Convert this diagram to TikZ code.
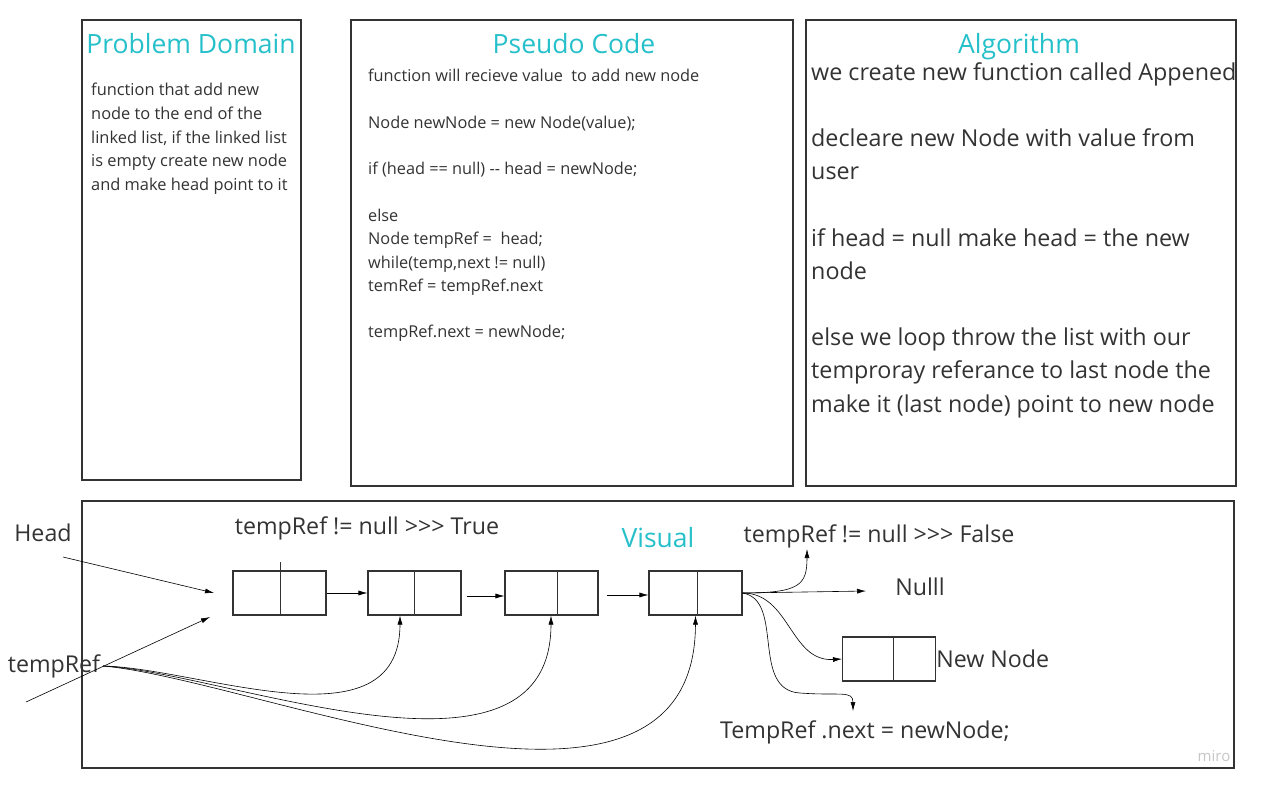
\documentclass[tikz,border=0pt]{standalone}
\usepackage{fontspec}
\setmainfont{Open Sans}
\usetikzlibrary{arrows.meta,positioning,calc}
\definecolor{miroteal}{RGB}{38,192,202}
\definecolor{inkgray}{RGB}{51,51,51}

\begin{document}
\begin{tikzpicture}[x=1pt, y=-1pt,
  panel/.style={draw=inkgray, line width=1.3pt},
  title/.style={text=miroteal, inner sep=0pt, font=\fontsize{26.5}{30}\selectfont},
  body/.style={text=inkgray, inner sep=0pt, align=left, anchor=north west},
  listnode/.style={draw=inkgray, line width=1.1pt, minimum width=93pt, minimum height=44pt, inner sep=0pt},
  label/.style={text=inkgray, inner sep=0pt, font=\fontsize{23.2}{27}\selectfont},
  link/.style={draw=black, line width=0.6pt, -{Latex[length=9pt,width=5pt]}}
]
  \useasboundingbox (0,0) rectangle (1264,790);
  \fill[white] (0,0) rectangle (1264,790);

  % the three text panels
  \draw[panel] (82,20) rectangle (301,480);
  \draw[panel] (351,20) rectangle (793,486);
  \draw[panel] (806,20) rectangle (1236,486);
  \node[title, anchor=base] (domain) at (191,53) {Problem Domain};
  \node[title, anchor=base] (pseudo) at (574,53) {Pseudo Code};
  \node[title, anchor=base] (algo) at (1019,53) {Algorithm};

  \node[body, font=\fontsize{16.4}{23.7}\selectfont] (domaintext) at (91,83)
    {function that add new\\ node to the end of the\\ linked list, if the linked list\\
     is empty create new node\\ and make head point to it};
  \node[body, font=\fontsize{16.3}{23.3}\selectfont] (pseudotext) at (368,69)
    {function will recieve value \ to add new node\\[23.3pt]
     Node newNode = new Node(value);\\[23.3pt]
     if (head == null) -{}- head = newNode;\\[23.3pt]
     else\\ Node tempRef = \ head;\\ while(temp,next != null)\\ temRef = tempRef.next\\[23.3pt]
     tempRef.next = newNode;};
  \node[body, font=\fontsize{23.3}{33.2}\selectfont] (algotext) at (811,62)
    {we create new function called Appened\\[33.2pt]
     decleare new Node with value from\\ user\\[33.2pt]
     if head = null make head = the new\\ node\\[33.2pt]
     else we loop throw the list with our\\ temproray referance to last node the\\
     make it (last node) point to new node};

  % visual panel
  \draw[panel] (82,501) rectangle (1234,768);
  \node[title] (visual) at (658,538) {Visual};
  \node[label] (head) at (43,533) {Head};
  \node[label] (tempref) at (54,666) {tempRef};
  \node[label] (truecase) at (367,528) {tempRef != null >{}>{}> True};
  \node[label] (falsecase) at (879,536) {tempRef != null >{}>{}> False};
  \node[label] (nulll) at (920,587) {Nulll};
  \node[label] (nextcase) at (865,732) {TempRef .next = newNode;};
  \node[text=black!22, inner sep=0pt, font=\fontsize{15}{18}\selectfont] (miro) at (1214,756) {miro};

  \node[listnode] (n1) at (279.5,593) {};
  \node[listnode] (n2) at (414.5,593) {};
  \node[listnode] (n3) at (551.5,593) {};
  \node[listnode] (n4) at (695.5,593) {};
  \node[listnode] (newnode) at (889,659) {};
  \node[label, anchor=west] (newlabel) at (newnode.east) {New Node};
  \foreach \n/\dx/\up in {n1/0.5/8, n2/-0.5/0, n3/5.5/0, n4/1.5/0, newnode/4/0}
    \draw[inkgray, line width=0.8pt] ([xshift=\dx pt, yshift=\up pt]\n.north) -- ([xshift=\dx pt]\n.south);

  \coordinate (headtail) at (63,557);
  \coordinate (headtip) at (214,593);
  \coordinate (reftail) at (26,702);
  \coordinate (reftip) at (210,617);
  \coordinate (reffrom) at (103,666);
  \coordinate (falsetip) at (807,549);
  \coordinate (nulltip) at (866,591);
  \coordinate (nexttip) at (853,711);

  \draw[link] (headtail) -- (headtip);
  \draw[link] (reftail) -- (reftip);
  \draw[link] (n1.east) -- (n2.west);
  \draw[link] ([yshift=-3pt]n2.east) ++(5,0) -- ([yshift=-3pt]n3.west);
  \draw[link] ([yshift=-2pt]n3.east) ++(8,0) -- ([yshift=-2pt]n4.west);

  \draw[link] (reffrom) .. controls (200,668) and (400,750) .. (n2.south -| 400,0);
  \draw[link] (reffrom) .. controls (225,672) and (551,805) .. (n3.south -| 551,0);
  \draw[link] (reffrom) .. controls (260,680) and (695,870) .. (n4.south);

  \draw[link] (n4.east) .. controls (800,593) and (807,585) .. (falsetip);
  \draw[link] (n4.east) -- (nulltip);
  \draw[link] (n4.east) .. controls (790,593) and (790,662) .. (newnode.west);
  \draw[link] (n4.east) .. controls (785,600) and (750,690) .. (800,693)
    .. controls (840,696) and (853,690) .. (nexttip);
\end{tikzpicture}
\end{document}
